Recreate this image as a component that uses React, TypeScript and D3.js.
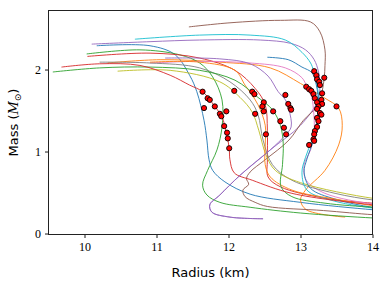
import { useEffect, useRef } from "react";
import * as d3 from "d3";

type Pt = [number, number]; // [radius km, mass Msun]

const radiusTicks = [10, 11, 12, 13, 14];
const massTicks = [0, 1, 2];

const palette = [
  "#1f77b4", "#ff7f0e", "#2ca02c", "#d62728", "#9467bd",
  "#8c564b", "#e377c2", "#7f7f7f", "#bcbd22", "#17becf",
];

// mass-radius sequences (unstable branch first)
const eos01: Pt[] = [[10.17, 2.29], [10.91, 2.29], [11.26, 2.18], [11.46, 1.93], [11.56, 1.73], [11.66, 1.38], [11.7, 1.14], [11.73, 0.9], [11.78, 0.77], [11.95, 0.63], [12.3, 0.48], [13.0, 0.38], [14.0, 0.29], [14.3, 0.27]];
const eos02: Pt[] = [[10.32, 2.08], [11.05, 2.12], [11.88, 2.09], [12.58, 2.02], [13.0, 1.83], [13.34, 1.65], [13.53, 1.53], [13.58, 1.32], [13.53, 1.08], [13.34, 0.77], [13.07, 0.53], [13.0, 0.41], [13.08, 0.29], [13.62, 0.2]];
const eos03: Pt[] = [[10.03, 2.19], [10.77, 2.24], [11.32, 2.18], [11.6, 2.08], [11.78, 1.91], [11.91, 1.63], [11.91, 1.3], [11.84, 1.02], [11.71, 0.77], [11.64, 0.59], [11.7, 0.47], [11.88, 0.38], [12.3, 0.32], [13.0, 0.25], [14.0, 0.19], [14.3, 0.18]];
const eos04: Pt[] = [[10.04, 2.16], [10.91, 2.2], [11.6, 2.14], [12.09, 1.99], [12.37, 1.77], [12.51, 1.57], [12.54, 1.26], [12.54, 0.9], [12.55, 0.69], [12.72, 0.57], [13.34, 0.43], [14.0, 0.37], [14.3, 0.35]];
const eos05: Pt[] = [[10.1, 2.31], [10.91, 2.34], [11.6, 2.36], [12.44, 2.36], [12.86, 2.32], [13.07, 2.24], [13.19, 2.12], [13.25, 1.97], [13.27, 1.81], [13.24, 1.62], [13.0, 1.32], [12.58, 1.02], [12.16, 0.71], [11.88, 0.47], [11.74, 0.35], [11.77, 0.26], [12.02, 0.2], [12.48, 0.18]];
const eos06: Pt[] = [[11.45, 2.52], [12.02, 2.57], [12.72, 2.6], [13.14, 2.58], [13.27, 2.46], [13.34, 2.24], [13.34, 2.05], [13.33, 1.9], [13.3, 1.73], [13.25, 1.57], [13.04, 1.38], [12.84, 1.14], [12.51, 0.9], [12.3, 0.75], [12.25, 0.67], [12.28, 0.6], [12.2, 0.53], [12.23, 0.45], [12.37, 0.38], [12.54, 0.33], [13.32, 0.28], [14.0, 0.23], [14.3, 0.22]];
const eos07: Pt[] = [[10.91, 2.08], [11.6, 2.1], [12.3, 2.08], [12.79, 2.02], [13.02, 1.9], [13.09, 1.79], [13.15, 1.69], [13.18, 1.51], [13.19, 1.26], [13.14, 1.02], [13.05, 0.84], [13.08, 0.65], [13.34, 0.49], [14.0, 0.36], [14.3, 0.34]];
const eos08: Pt[] = [[10.21, 2.09], [10.91, 2.08], [11.6, 2.02], [12.02, 1.85], [12.3, 1.63], [12.41, 1.45], [12.48, 1.14], [12.61, 0.84], [12.88, 0.65], [13.48, 0.49], [14.0, 0.41], [14.3, 0.39]];
const eos09: Pt[] = [[10.46, 1.98], [11.19, 1.99], [11.88, 1.85], [12.16, 1.66], [12.33, 1.48], [12.42, 1.26], [12.52, 0.96], [12.65, 0.77], [13.0, 0.62], [14.0, 0.43], [14.3, 0.41]];
const eos10: Pt[] = [[10.7, 2.37], [11.6, 2.42], [12.3, 2.42], [12.79, 2.36], [13.02, 2.21], [13.14, 2.08], [13.18, 1.99], [13.23, 1.81], [13.26, 1.57], [13.23, 1.32], [13.16, 1.14], [13.07, 0.93], [13.02, 0.74], [13.09, 0.53], [13.41, 0.41], [14.0, 0.31], [14.3, 0.29]];
const eos11: Pt[] = [[12.54, 2.15], [12.83, 2.12], [13.02, 2.03], [13.16, 1.96], [13.22, 1.81], [13.25, 1.57], [13.22, 1.32], [13.18, 1.14], [13.09, 0.91], [13.05, 0.75], [13.14, 0.55], [13.48, 0.42], [14.0, 0.32], [14.3, 0.3]];
const eos12: Pt[] = [[10.91, 2.09], [11.6, 2.09], [12.09, 1.99], [12.23, 1.81], [12.41, 1.57], [12.51, 1.32], [12.51, 1.08], [12.51, 0.84], [12.58, 0.69], [12.88, 0.53], [13.55, 0.41], [14.0, 0.34], [14.3, 0.32]];
const eos13: Pt[] = [[9.56, 1.97], [10.21, 2.02], [10.91, 2.03], [11.6, 1.99], [12.09, 1.87], [12.41, 1.66], [12.61, 1.51], [12.72, 1.32], [12.76, 1.1], [12.75, 0.84], [12.73, 0.57], [12.88, 0.45], [13.34, 0.37], [14.0, 0.32], [14.3, 0.3]];
const eos14: Pt[] = [[9.68, 2.03], [10.21, 2.07], [10.77, 2.05], [11.19, 1.93], [11.46, 1.81], [11.64, 1.73], [11.81, 1.55], [11.91, 1.42], [11.97, 1.23], [12.01, 1.04], [12.02, 0.9], [12.08, 0.74], [12.33, 0.65], [12.88, 0.49], [14.0, 0.35], [14.3, 0.33]];
const eos15: Pt[] = [[11.12, 2.14], [11.88, 2.13], [12.3, 2.07], [12.55, 1.92], [12.69, 1.73], [12.79, 1.63], [12.84, 1.51], [12.87, 1.3], [12.79, 1.2], [12.58, 1.02], [12.16, 0.71], [11.88, 0.47], [11.74, 0.35], [11.77, 0.26], [12.02, 0.2], [12.48, 0.18]];

const curves = [eos01, eos02, eos03, eos04, eos05, eos06, eos07, eos08, eos09, eos10, eos11, eos12, eos13, eos14, eos15];

const markers: Pt[] = [
  [11.64, 1.73], [11.71, 1.65], [11.74, 1.63], [11.81, 1.55], [11.66, 1.53], [11.88, 1.46],
  [11.9, 1.43], [11.97, 1.49], [11.94, 1.31], [11.98, 1.23], [11.99, 1.16], [12.01, 1.04],
  [12.08, 1.74], [12.33, 1.73], [12.36, 1.7], [12.49, 1.6], [12.47, 1.55], [12.49, 1.49],
  [12.37, 1.46], [12.52, 1.21], [12.72, 1.37], [12.77, 1.29], [12.8, 1.21], [12.79, 1.69],
  [12.83, 1.58], [12.86, 1.53], [12.87, 1.51], [12.62, 1.49], [13.19, 1.98], [13.22, 1.93],
  [13.23, 1.88], [13.26, 1.85], [13.27, 1.81], [13.33, 1.9], [13.08, 1.79], [13.12, 1.76],
  [13.15, 1.74], [13.18, 1.7], [13.2, 1.65], [13.23, 1.6], [13.29, 1.63], [13.3, 1.58],
  [13.3, 1.71], [13.5, 1.55], [13.25, 1.55], [13.23, 1.52], [13.27, 1.47], [13.29, 1.45],
  [13.23, 1.41], [13.25, 1.37], [13.23, 1.3], [13.2, 1.25], [13.19, 1.21], [13.18, 1.15],
  [13.19, 1.13], [13.12, 1.08],
];

export default function App() {
  const svgRef = useRef<SVGSVGElement | null>(null);

  useEffect(() => {
    const svg = d3.select(svgRef.current);
    svg.selectAll("*").remove();

    const width = 390;
    const height = 290;
    const margin = { top: 10.5, right: 17.5, bottom: 55.5, left: 48.5 };
    const innerW = width - margin.left - margin.right;
    const innerH = height - margin.top - margin.bottom;

    const x = d3.scaleLinear().domain([9.5, 14]).range([0, innerW]);
    const y = d3.scaleLinear().domain([-0.012, 2.72]).range([innerH, 0]);

    const g = svg.append("g").attr("transform", `translate(${margin.left},${margin.top})`);

    g.append("clipPath")
      .attr("id", "plot-clip")
      .append("rect")
      .attr("width", innerW)
      .attr("height", innerH);

    const line = d3
      .line<Pt>()
      .x((d) => x(d[0]))
      .y((d) => y(d[1]))
      .curve(d3.curveCatmullRom.alpha(0.5));

    const plot = g.append("g").attr("clip-path", "url(#plot-clip)");

    plot
      .selectAll(".eos")
      .data(curves)
      .enter()
      .append("path")
      .attr("class", "eos")
      .attr("d", (d) => line(d))
      .attr("fill", "none")
      .attr("stroke", (_, i) => palette[i % palette.length])
      .attr("stroke-width", 0.9);

    plot
      .selectAll(".dot")
      .data(markers)
      .enter()
      .append("circle")
      .attr("class", "dot")
      .attr("cx", (d) => x(d[0]))
      .attr("cy", (d) => y(d[1]))
      .attr("r", 2.6)
      .attr("fill", "#ff0000")
      .attr("stroke", "#000")
      .attr("stroke-width", 0.9);

    // axes
    const xAxis = g
      .append("g")
      .attr("transform", `translate(0,${innerH})`)
      .call(d3.axisBottom(x).tickValues(radiusTicks).tickSize(3.5).tickPadding(4).tickFormat(d3.format("d")));
    xAxis.select(".domain").remove();

    const yAxis = g
      .append("g")
      .call(d3.axisLeft(y).tickValues(massTicks).tickSize(3.5).tickPadding(4).tickFormat(d3.format("d")));
    yAxis.select(".domain").remove();

    g.selectAll(".tick line").attr("stroke", "#000").attr("stroke-width", 0.9);
    g.selectAll(".tick text")
      .attr("fill", "#000")
      .style("font-family", "'Liberation Serif', serif")
      .style("font-size", "12px");

    g.append("rect")
      .attr("width", innerW)
      .attr("height", innerH)
      .attr("fill", "none")
      .attr("stroke", "#222")
      .attr("stroke-width", 1);

    svg
      .append("text")
      .attr("x", margin.left + innerW / 2)
      .attr("y", 277)
      .attr("text-anchor", "middle")
      .style("font-family", "'DejaVu Sans', sans-serif")
      .style("font-size", "13px")
      .text("Radius (km)");

    const yl = svg
      .append("text")
      .attr("transform", `translate(18,${margin.top + innerH / 2}) rotate(-90)`)
      .attr("text-anchor", "middle")
      .style("font-family", "'DejaVu Sans', sans-serif")
      .style("font-size", "13px");
    yl.append("tspan").text("Mass (");
    yl.append("tspan").style("font-family", "'DejaVu Serif', serif").style("font-style", "italic").text("M");
    yl.append("tspan").attr("dy", 3).style("font-size", "9px").text("\u2299");
    yl.append("tspan").attr("dy", -3).text(")");
  }, []);

  return (
    <svg
      ref={svgRef}
      width={390}
      height={290}
      style={{ position: "absolute", left: 0, top: 0, background: "#fff" }}
    ></svg>
  );
}
